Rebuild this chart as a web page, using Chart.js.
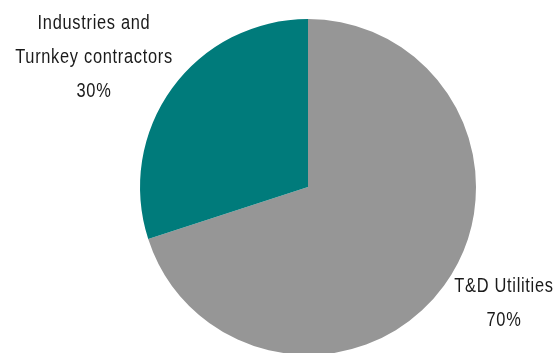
<!DOCTYPE html>
<html>
<head>
<meta charset="utf-8">
<script src="https://cdn.jsdelivr.net/npm/chart.js@4/dist/chart.umd.min.js"></script>
<style>
  html, body { margin: 0; padding: 0; background: #fff; overflow: hidden; }
  #wrap { position: relative; width: 553px; height: 370px; }
</style>
</head>
<body>
<div id="wrap"><canvas id="pieChart"></canvas></div>
<script>
var segments = ["T&D Utilities", "Industries and Turnkey contractors"];
var shares = [70, 30];
var sliceColors = ["#969696", "#007b7b"];
// label text lines, shown outside the pie
var labelLines = [
    ["T&D Utilities", "70%"],
    ["Industries and", "Turnkey contractors", "30%"]
];

var outsideLabels = {
    id: "outsideLabels",
    afterDraw: function (chart) {
        var ctx = chart.ctx;
        var sx = 0.82; // squeeze to look like a narrow face
        ctx.save();
        ctx.scale(sx, 1);
        ctx.fillStyle = "#1a1a1a";
        ctx.font = "20px 'Liberation Sans', Arial, sans-serif";
        ctx.letterSpacing = "0.85px";
        ctx.textAlign = "center";
        ctx.textBaseline = "alphabetic";
        // anchors: centre x and first baseline
        var anchors = [[504, 292], [94, 29]];
        labelLines.forEach(function (lines, i) {
            lines.forEach(function (t, j) {
                ctx.fillText(t, anchors[i][0] / sx, anchors[i][1] + j * 34);
            });
        });
        ctx.restore();
    }
};

var ctx = document.getElementById("pieChart").getContext("2d");
var pieChart = new Chart(ctx, {
    type: "pie",
    data: {
        labels: segments,
        datasets: [{
            data: shares,
            backgroundColor: sliceColors,
            borderWidth: 0
        }]
    },
    options: {
        responsive: true,
        maintainAspectRatio: false,
        animation: false,
        layout: { padding: { left: 140, right: 77, top: 19, bottom: 15 } },
        plugins: {
            legend: { display: false },
            tooltip: { enabled: false }
        }
    },
    plugins: [outsideLabels]
});
</script>
</body>
</html>
